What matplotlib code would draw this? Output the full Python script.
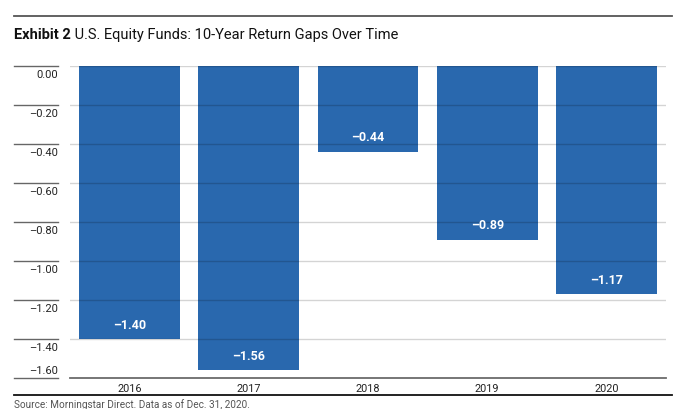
import matplotlib
matplotlib.use("Agg")
import matplotlib.pyplot as plt
from matplotlib.transforms import blended_transform_factory, offset_copy
import matplotlib.font_manager as fm

years = ["2016", "2017", "2018", "2019", "2020"]
gaps = [-1.40, -1.56, -0.44, -0.89, -1.17]
yticks = [0.00, -0.20, -0.40, -0.60, -0.80, -1.00, -1.20, -1.40, -1.60]

title_bold = "Exhibit 2"
title_rest = " U.S. Equity Funds: 10-Year Return Gaps Over Time"
source = "Source: Morningstar Direct. Data as of Dec. 31, 2020."

names = {f.name for f in fm.fontManager.ttflist}
FAM = ["Liberation Sans Narrow", "DejaVu Sans"] if "Liberation Sans Narrow" in names else ["Roboto", "DejaVu Sans"]
plt.rcParams["font.family"] = FAM

W, H = 690, 409
fig = plt.figure(figsize=(W / 100, H / 100), dpi=100)
ax = fig.add_axes([70 / W, 1 - 378 / H, (666 - 70) / W, (378 - 66) / H])

BAR = "#2968ae"
x = list(range(len(years)))
ax.bar(x, gaps, width=0.845, color=BAR, zorder=2)
ax.set_xlim(-0.5, len(years) - 0.5)
ax.set_ylim(-1.6, 0)

# gridlines drawn over bars
for v in yticks[:-1]:
    ax.axhline(v, color="black", alpha=0.17, lw=1.0, zorder=3)

for s in ["top", "right", "left"]:
    ax.spines[s].set_visible(False)
ax.spines["bottom"].set_color("#6b6b6b")
ax.spines["bottom"].set_linewidth(1.3)
ax.spines["bottom"].set_zorder(4)
ax.set_yticks([])
ax.set_xticks(x)
ax.set_xticklabels(years, fontsize=7.8, color="#222222")
ax.tick_params(axis="x", length=0, pad=4)

# y labels and left short segments
tr = blended_transform_factory(fig.transFigure, ax.transData)
for i, v in enumerate(yticks):
    ax.plot([14 / W, 58 / W], [v, v], transform=tr, color="#666666", lw=1.0, clip_on=False)
    lab = f"{v:.2f}".replace("-", "\u2013")
    if i == len(yticks) - 1:
        t = offset_copy(tr, fig=fig, y=1.5, units="points")
        ax.text(58 / W, v, lab, transform=t, ha="right", va="bottom", fontsize=8, color="#222222")
    else:
        t = offset_copy(tr, fig=fig, y=-3, units="points")
        ax.text(58 / W, v, lab, transform=t, ha="right", va="top", fontsize=8, color="#222222")

# bar value labels
for xi, g in zip(x, gaps):
    t = offset_copy(ax.transData, fig=fig, y=10, units="points")
    ax.text(xi, g, f"{g:.2f}".replace("-", "\u2013"), transform=t, ha="center", va="center",
            color="white", fontsize=9, fontweight="bold", zorder=5)

# top rule and bottom rule
fig.add_artist(plt.Line2D([14 / W, 672 / W], [1 - 16 / H] * 2, color="#555555", lw=1.3))
fig.add_artist(plt.Line2D([14 / W, 672 / W], [1 - 395 / H] * 2, color="#111111", lw=1.3))

# title
t1 = fig.text(14 / W, 1 - 39 / H, title_bold, fontsize=10.5, fontweight="bold", color="#111111", va="baseline")
fig.canvas.draw()
bb = t1.get_window_extent()
fig.text(bb.x1 / W, 1 - 39 / H, title_rest, fontsize=10.5, color="#111111", va="baseline")

fig.text(14 / W, 1 - 405 / H, source, fontsize=7.2, color="#555555", va="center")

fig.savefig("out.png", dpi=100)
